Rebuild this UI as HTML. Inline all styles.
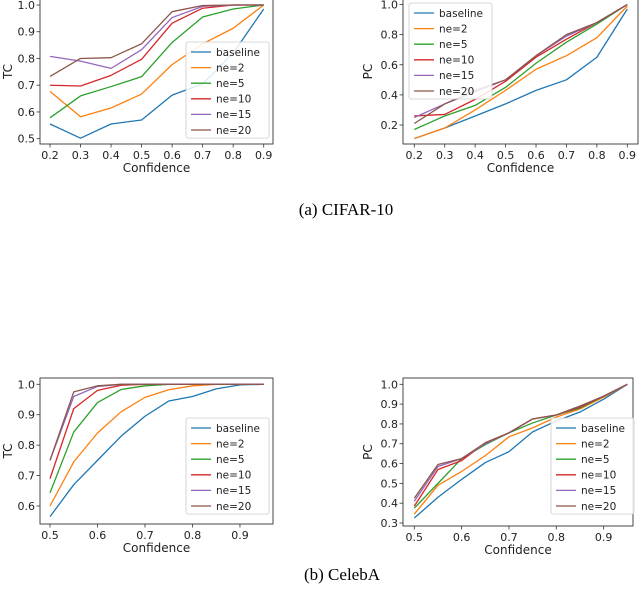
<!DOCTYPE html>
<html><head><meta charset="utf-8"><style>
body{margin:0;background:#fff;}
svg{display:block;font-family:"DejaVu Sans","Liberation Sans",sans-serif;}
</style></head><body>
<svg id="fig" width="640" height="599" viewBox="0 0 640 599">
<text x="346" y="215" font-family="Liberation Serif, serif" font-size="17" text-anchor="middle" fill="#000">(a) CIFAR-10</text>
<text x="342" y="580" font-family="Liberation Serif, serif" font-size="17" text-anchor="middle" fill="#000">(b) CelebA</text>
</svg>
<script>
const seriesNames = ["baseline","ne=2","ne=5","ne=10","ne=15","ne=20"];
const colors = ["#1f77b4","#ff7f0e","#2ca02c","#d62728","#9467bd","#8c564b"];

const cifarX = [0.2,0.3,0.4,0.5,0.6,0.7,0.8,0.9];
const cifarTC = [
 [0.555,0.502,0.555,0.57,0.663,0.705,0.82,0.985],
 [0.677,0.582,0.615,0.667,0.777,0.855,0.913,1.0],
 [0.578,0.66,0.695,0.732,0.86,0.955,0.985,1.0],
 [0.70,0.697,0.737,0.797,0.932,0.988,1.0,1.0],
 [0.808,0.79,0.763,0.833,0.953,0.995,1.0,1.0],
 [0.733,0.8,0.803,0.855,0.975,0.998,1.0,1.0]];
const cifarPC = [
 [0.11,0.18,0.26,0.34,0.43,0.50,0.65,0.97],
 [0.11,0.18,0.30,0.43,0.57,0.66,0.78,0.99],
 [0.17,0.26,0.33,0.45,0.61,0.75,0.87,1.0],
 [0.26,0.27,0.37,0.49,0.65,0.77,0.88,1.0],
 [0.25,0.34,0.42,0.50,0.66,0.79,0.88,1.0],
 [0.21,0.34,0.43,0.50,0.66,0.80,0.88,1.0]];
const celebX = [0.5,0.55,0.6,0.65,0.7,0.75,0.8,0.85,0.9,0.95];
const celebTC = [
 [0.565,0.67,0.75,0.83,0.895,0.945,0.96,0.985,0.998,1.0],
 [0.60,0.745,0.84,0.91,0.957,0.982,0.995,1.0,1.0,1.0],
 [0.643,0.843,0.94,0.983,0.995,1.0,1.0,1.0,1.0,1.0],
 [0.69,0.92,0.98,0.997,1.0,1.0,1.0,1.0,1.0,1.0],
 [0.75,0.96,0.993,1.0,1.0,1.0,1.0,1.0,1.0,1.0],
 [0.75,0.975,0.995,1.0,1.0,1.0,1.0,1.0,1.0,1.0]];
const celebPC = [
 [0.325,0.43,0.52,0.605,0.66,0.76,0.815,0.86,0.925,1.0],
 [0.345,0.49,0.56,0.64,0.735,0.78,0.835,0.875,0.935,1.0],
 [0.375,0.50,0.625,0.695,0.755,0.805,0.845,0.88,0.94,1.0],
 [0.385,0.57,0.615,0.705,0.755,0.825,0.845,0.885,0.94,1.0],
 [0.41,0.585,0.625,0.70,0.755,0.825,0.845,0.89,0.94,1.0],
 [0.425,0.595,0.625,0.705,0.755,0.825,0.845,0.89,0.94,1.0]];
const cifarXTicks = [0.2,0.3,0.4,0.5,0.6,0.7,0.8,0.9];
const celebXTicks = [0.5,0.6,0.7,0.8,0.9];
const tcTicksA = [0.5,0.6,0.7,0.8,0.9,1.0];
const pcTicksA = [0.2,0.4,0.6,0.8,1.0];
const tcTicksB = [0.6,0.7,0.8,0.9,1.0];
const pcTicksB = [0.3,0.4,0.5,0.6,0.7,0.8,0.9,1.0];

const NS="http://www.w3.org/2000/svg";
const svg=document.getElementById('fig');
function mk(tag,attrs,parent){const e=document.createElementNS(NS,tag);for(const k in attrs)e.setAttribute(k,attrs[k]);(parent||svg).appendChild(e);return e;}

function chart(o){
 const g=mk('g',{});
 
 
 const sx=v=>o.px0+(v-o.x0)*(o.px1-o.px0)/(o.x1-o.x0);
 const sy=v=>o.py0+(v-o.y0)*(o.py1-o.py0)/(o.y1-o.y0);
 o.data.forEach((s,i)=>{
  const pts=s.map((v,j)=>sx(o.xs[j]).toFixed(2)+','+sy(v).toFixed(2)).join(' ');
  const pl=mk('polyline',{points:pts,fill:'none',stroke:colors[i],'stroke-width':1.3,'stroke-linejoin':'round'},g);
  
  
 });
 const fr=mk('rect',{x:o.L,y:o.T,width:o.R-o.L,height:o.B-o.T,fill:'none',stroke:'#333','stroke-width':0.9},g);
 
 
 o.xt.forEach(t=>{
  const x=sx(t);
  mk('line',{x1:x,x2:x,y1:o.B,y2:o.B+3.5,stroke:'#333','stroke-width':0.8},g);
  const tx=mk('text',{x:x,y:o.B+15,'font-size':11,'text-anchor':'middle',fill:'#222'},g);
  tx.textContent=t.toFixed(1);
  
  
 });
 o.yt.forEach(t=>{
  const y=sy(t);
  mk('line',{x1:o.L-3.5,x2:o.L,y1:y,y2:y,stroke:'#333','stroke-width':0.8},g);
  const tx=mk('text',{x:o.L-5,y:y+4,'font-size':11,'text-anchor':'end',fill:'#222'},g);
  tx.textContent=t.toFixed(1);
  
  
 });
 const xl=mk('text',{x:(o.L+o.R)/2,y:o.B+28,'font-size':12,'text-anchor':'middle',fill:'#222'},g);
 xl.textContent='Confidence';
 
 
 const yc=(o.T+o.B)/2;
 const yl=mk('text',{x:o.ylx,y:yc,'font-size':12,'text-anchor':'middle',fill:'#222',transform:'rotate(-90 '+o.ylx+' '+yc+')'},g);
 yl.textContent=o.ylabel;
 
 
 const lg=mk('g',{},g);
 
 
 mk('rect',{x:o.lx,y:o.ly,width:83,height:96,rx:2,fill:'#fff','fill-opacity':0.85,stroke:'#ccc','stroke-width':0.8},lg);
 seriesNames.forEach((n,i)=>{
  const y=o.ly+10+i*15.6;
  const e=mk('g',{},lg);
  
  
  mk('line',{x1:o.lx+5,x2:o.lx+25,y1:y,y2:y,stroke:colors[i],'stroke-width':1.3},e);
  const t=mk('text',{x:o.lx+30,y:y+3.8,'font-size':10.5,fill:'#222'},e);
  t.textContent=n;
 });
}
chart({name:'cifar-tc-chart',data:cifarTC,xs:cifarX,xt:cifarXTicks,yt:tcTicksA,x0:0.2,x1:0.9,px0:50,px1:263.7,y0:0.5,y1:1.0,py0:138.7,py1:5,L:40,R:273,T:-1,B:144,ylabel:'TC',ylx:12,lx:186,ly:42});
chart({name:'cifar-pc-chart',data:cifarPC,xs:cifarX,xt:cifarXTicks,yt:pcTicksA,x0:0.2,x1:0.9,px0:414.3,px1:627.3,y0:0.2,y1:1.0,py0:125,py1:4.5,L:403,R:638,T:-1,B:144,ylabel:'PC',ylx:372,lx:409,ly:3});
chart({name:'celeba-tc-chart',data:celebTC,xs:celebX,xt:celebXTicks,yt:tcTicksB,x0:0.5,x1:0.95,px0:50,px1:263.7,y0:0.6,y1:1.0,py0:506,py1:384.3,L:40,R:273,T:378,B:524,ylabel:'TC',ylx:12,lx:186,ly:418});
chart({name:'celeba-pc-chart',data:celebPC,xs:celebX,xt:celebXTicks,yt:pcTicksB,x0:0.5,x1:0.95,px0:414.3,px1:627.3,y0:0.3,y1:1.0,py0:523,py1:384.3,L:403,R:633,T:378,B:526,ylabel:'PC',ylx:372,lx:551,ly:418});
</script>
</body></html>
